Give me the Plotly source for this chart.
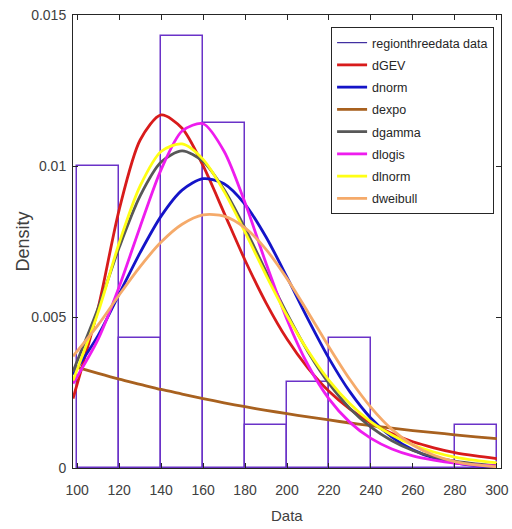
import plotly.graph_objects as go

# Histogram (density) of the data
bin_centers = [110, 130, 150, 170, 190, 210, 230, 250, 270, 290]
hist_density = [0.01000, 0.00429, 0.01429, 0.01143, 0.00143, 0.00286, 0.00429, 0.0, 0.0, 0.00143]

# Fitted density curves
x_fit = [98, 110, 120, 130, 140, 150, 160, 170, 180, 190, 200,
         210, 220, 230, 240, 250, 260, 270, 280, 290, 300]
dGEV = [0.00230, 0.00530, 0.00855, 0.01086, 0.01169, 0.01125, 0.01001, 0.00845, 0.00688, 0.00547, 0.00427,
        0.00331, 0.00254, 0.00195, 0.00149, 0.00114, 0.00087, 0.00067, 0.00051, 0.00040, 0.00031]
dnorm = [0.00310, 0.00439, 0.00576, 0.00713, 0.00834, 0.00920, 0.00958, 0.00941, 0.00873, 0.00765, 0.00632,
         0.00493, 0.00363, 0.00252, 0.00165, 0.00102, 0.00060, 0.00033, 0.00017, 0.00008, 0.00004]
dgamma = [0.00320, 0.00530, 0.00730, 0.00901, 0.01013, 0.01050, 0.01015, 0.00922, 0.00794, 0.00651, 0.00511,
          0.00385, 0.00280, 0.00197, 0.00135, 0.00090, 0.00058, 0.00037, 0.00023, 0.00014, 0.00008]
dlogis = [0.00280, 0.00427, 0.00600, 0.00799, 0.00988, 0.01116, 0.01140, 0.01049, 0.00878, 0.00678, 0.00492,
          0.00341, 0.00229, 0.00151, 0.00098, 0.00063, 0.00040, 0.00026, 0.00016, 0.00010, 0.00007]
dlnorm = [0.00290, 0.00516, 0.00745, 0.00934, 0.01048, 0.01073, 0.01022, 0.00916, 0.00781, 0.00639, 0.00505,
          0.00388, 0.00290, 0.00213, 0.00153, 0.00109, 0.00076, 0.00053, 0.00036, 0.00025, 0.00017]
dweibull = [0.00370, 0.00474, 0.00573, 0.00667, 0.00748, 0.00807, 0.00838, 0.00834, 0.00795, 0.00724, 0.00627,
            0.00516, 0.00401, 0.00293, 0.00201, 0.00128, 0.00076, 0.00042, 0.00021, 0.00010, 0.00004]

x_expo = [100, 110, 120, 130, 140, 150, 160, 170, 180, 190, 200,
          210, 220, 230, 240, 250, 260, 270, 280, 290, 300]
dexpo = [0.00333, 0.00313, 0.00294, 0.00277, 0.00260, 0.00245, 0.00230, 0.00216, 0.00203, 0.00191, 0.00180,
         0.00169, 0.00159, 0.00149, 0.00140, 0.00132, 0.00124, 0.00117, 0.00110, 0.00103, 0.00097]

x_ticks = [100, 120, 140, 160, 180, 200, 220, 240, 260, 280, 300]
y_ticks = [0, 0.005, 0.01, 0.015]
y_ticktext = ["0", "0.005", "0.01", "0.015"]

HIST_COLOR = "#6A32C8"
FONT = "Liberation Sans, Arial, sans-serif"

fig = go.Figure()

fig.add_trace(go.Bar(
    x=bin_centers, y=hist_density, width=20,
    marker=dict(color="rgba(0,0,0,0)", line=dict(color=HIST_COLOR, width=1.5)),
    showlegend=False, hoverinfo="skip"))
# legend entry for the histogram (thin line)
fig.add_trace(go.Scatter(x=[None], y=[None], mode="lines", name="regionthreedata data",
                         legendgroup="g0", line=dict(color="#3B2A9E", width=1.2)))

curves = [
    ("dGEV", x_fit, dGEV, "#D81B1B"),
    ("dnorm", x_fit, dnorm, "#1414C8"),
    ("dexpo", x_expo, dexpo, "#A8611F"),
    ("dgamma", x_fit, dgamma, "#585858"),
    ("dlogis", x_fit, dlogis, "#EE1CEE"),
    ("dlnorm", x_fit, dlnorm, "#FFFF14"),
    ("dweibull", x_fit, dweibull, "#F5AA6A"),
]
for i, (name, xs, ys, col) in enumerate(curves):
    fig.add_trace(go.Scatter(x=xs, y=ys, mode="lines", name=name, legendgroup=f"g{i+1}",
                             line=dict(color=col, width=2.8, shape="spline", smoothing=0.8)))

axis_common = dict(showline=True, linecolor="#262626", linewidth=1, mirror="ticks",
                   ticks="inside", ticklen=5, tickcolor="#262626", showgrid=False,
                   zeroline=False, automargin=False,
                   tickfont=dict(family=FONT, size=14, color="#404040"))

fig.update_xaxes(range=[98, 302], tickvals=x_ticks, ticklabelstandoff=9, **axis_common)
fig.update_yaxes(range=[0, 0.015], tickvals=y_ticks, ticktext=y_ticktext, ticklabelstandoff=3,
                 **axis_common)

# axis titles
fig.add_annotation(text="Data", xref="paper", yref="paper", x=0.5, y=-0.104,
                   xanchor="center", yanchor="middle", showarrow=False,
                   font=dict(family=FONT, size=15, color="#404040"))
fig.add_annotation(text="Density", xref="paper", yref="paper", x=-0.119, y=0.5,
                   xanchor="center", yanchor="middle", textangle=-90, showarrow=False,
                   font=dict(family=FONT, size=18, color="#404040"))

fig.update_layout(
    width=512, height=529,
    margin=dict(l=73, r=11, t=15, b=61),
    paper_bgcolor="white", plot_bgcolor="white",
    bargap=0,
    legend=dict(x=0.603, y=0.9735, xanchor="left", yanchor="top",
                bgcolor="white", bordercolor="#262626", borderwidth=1,
                font=dict(family=FONT, size=12.5, color="#262626"),
                tracegroupgap=3),
)

fig.write_html("out.html", config={"displayModeBar": False},
               post_script="document.body.style.margin='0';")
